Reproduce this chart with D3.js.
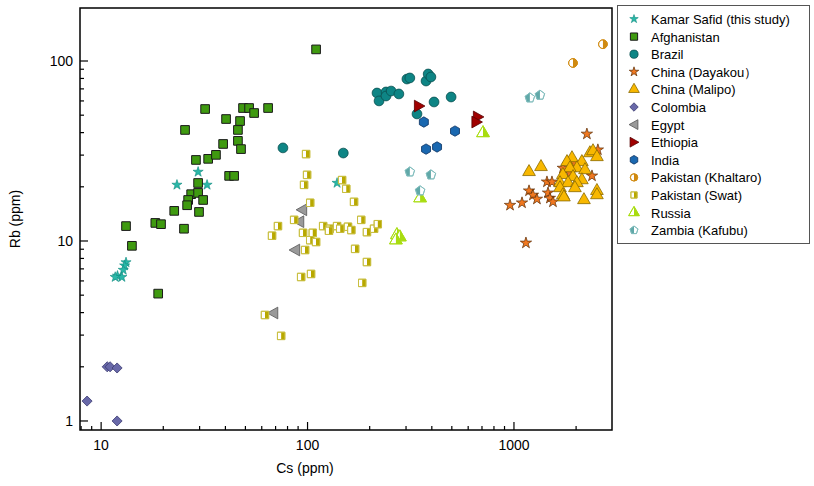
<!DOCTYPE html>
<html><head><meta charset="utf-8">
<script src="https://cdn.jsdelivr.net/npm/d3@7"></script>
<style>body{margin:0;background:#fff;font-family:"Liberation Sans",Arial,sans-serif}</style>
</head><body><div id="chart"></div>
<script>
// values: [Cs, Rb] in ppm
const kamarSafid = [[23.3,20.5],[29.5,24.2],[32.6,20.5],[139,21],[13.2,7.6],[13,7.3],[12.8,6.9],[12,6.4],[12.6,6.3],[11.7,6.3]];
const afghanistan = [[31.9,54.1],[48.7,54.8],[52.1,54.8],[55.1,51.4],[64.4,54.8],[40.3,47.6],[47.1,46.4],[25.5,41.4],[46,41.4],[46,36],[39,34.6],[47.6,32.4],[28.8,28.2],[33,28.6],[36,30.1],[41.7,23],[44.1,23],[29.5,21],[27.3,18.2],[29.5,18.5],[26.4,16.9],[31.2,16.9],[26.1,15.8],[22.6,14.7],[29.8,14.5],[13.2,12.1],[18.3,12.6],[19.5,12.4],[25.2,11.7],[14.1,9.4],[18.9,5.1],[110,116]];
const brazil = [[303,79.4],[313,80.5],[375,77.4],[384,84.7],[396,81.5],[217,66.4],[222,60],[240,67.3],[240,63.9],[254,68.1],[277,65.6],[410,59.2],[496,63.1],[339,50.8],[76,32.9],[149,30.8]];
const dayakou = [[2256,39.3],[2550,32.1],[957,15.8],[1094,16.3],[1183,19],[1236,18],[1292,17.1],[1462,18.5],[1493,17.3],[1545,16.5],[1445,21.3],[1528,21.3],[1726,25.4],[2388,23],[1866,23.9],[1974,27.1],[1143,9.75]];
const malipo = [[1183,24.2],[1352,25.8],[2333,30.8],[2415,31.6],[2523,29.3],[1910,28.9],[1807,27.5],[2133,27.5],[2018,25.4],[1866,25.4],[2208,24.8],[1726,23.3],[1932,22.7],[2133,21.8],[1671,21],[1828,21],[2018,21],[1671,19.7],[1974,19.7],[1726,18],[1746,17.5],[2183,16.9],[2523,19],[2523,18]];
const colombia = [[8.55,1.29],[10.7,2.0],[11.05,2.0],[11.95,1.97],[11.95,1.0]];
const egypt = [[94,14.9],[91,12.8],[86.9,8.91],[68.1,3.98]];
const ethiopia = [[347,56.2],[670,48.9],[659,45.8]];
const india = [[366,45.8],[518,40.8],[424,33.3],[375,32.4]];
const khaltaro = [[1932,97.5],[2698,124]];
const swat = [[98.4,30.4],[99.5,23.3],[96.2,20.5],[147,21.8],[154,19.5],[103,16.3],[168,16.5],[71.9,12.1],[67.3,10.7],[86.1,13.1],[95.1,11.1],[106,11.1],[103,10.1],[110,9.87],[119,12.1],[128,11.7],[127,11.4],[139,12.1],[144,11.7],[157,12],[163,11.5],[182,13.1],[194,11.2],[210,11.7],[219,12.4],[97.3,8.91],[170,9.04],[194,7.64],[93.1,6.31],[104,6.56],[184,5.85],[62.2,3.88],[74.5,2.97]];
const russia = [[708,39.8],[271,10.8],[280,10.5],[268,10.1],[351,17.3]];
const zambia = [[313,24.2],[396,23.3],[351,19],[1194,62.4],[1336,64.6]];

const seriesNames = ["Kamar Safid (this study)","Afghanistan","Brazil","China (Dayakou\uFF09","China (Malipo)","Colombia","Egypt","Ethiopia","India","Pakistan (Khaltaro)","Pakistan (Swat)","Russia","Zambia (Kafubu)"];
const seriesData = [kamarSafid,afghanistan,brazil,dayakou,malipo,colombia,egypt,ethiopia,india,khaltaro,swat,russia,zambia];
const xTicks = [10,100,1000];
const yTicks = [1,10,100];

const styles = [
  {sym:d3.symbolStar,size:32,fill:"#2ab8a8",stroke:"#0f8c80",w:0.6},
  {sym:d3.symbolSquare,size:75,fill:"#3f9a10",stroke:"#1a1a1a",w:1},
  {sym:d3.symbolCircle,size:75,fill:"#0e8585",stroke:"#0a4f4f",w:0.8},
  {sym:d3.symbolStar,size:40,fill:"#f07820",stroke:"#5a2a00",w:0.7},
  {sym:d3.symbolTriangle,size:70,fill:"#f8b800",stroke:"#8a6a00",w:0.8},
  {sym:"diamond",size:55,fill:"#6868a8",stroke:"#3a3a70",w:0.8},
  {sym:"left",size:70,fill:"#9a9a9a",stroke:"#555",w:0.8},
  {sym:"right",size:70,fill:"#a00000",stroke:"#500",w:0.8},
  {sym:"hex",size:70,fill:"#1a68b0",stroke:"#0a3060",w:0.8},
  {sym:d3.symbolCircle,size:60,fill:"#d08a10",stroke:"#d08a10",w:0.9,half:true},
  {sym:d3.symbolSquare,size:55,fill:"#b8a800",stroke:"#c8be40",w:0.9,half:true},
  {sym:d3.symbolTriangle,size:70,fill:"#a8dc10",stroke:"#a8dc10",w:0.9,half:true},
  {sym:"pent",size:65,fill:"#60a8a8",stroke:"#80bcbc",w:0.9,half:true,leftFill:true}
];

function shapePath(s) {
  if (s.sym === "left" || s.sym === "right") {
    const r = Math.sqrt(s.size) * 0.7, d = s.sym === "left" ? -1 : 1;
    return `M${d*r},0L${-d*r*0.8},${-r}L${-d*r*0.8},${r}Z`;
  }
  if (s.sym === "diamond") {
    const r = Math.sqrt(s.size) * 0.68;
    return `M0,${-r}L${r},0L0,${r}L${-r},0Z`;
  }
  if (s.sym === "hex" || s.sym === "pent") {
    const n = s.sym === "hex" ? 6 : 5, r = Math.sqrt(s.size) * 0.62;
    const pts = d3.range(n).map(i => { const a = -Math.PI/2 + i*2*Math.PI/n; return [r*Math.cos(a), r*Math.sin(a)]; });
    return "M" + pts.join("L") + "Z";
  }
  return d3.symbol(s.sym, s.size)();
}

const width = 814, height = 486;
const plot = {left: 80, right: 612, top: 8, bottom: 430};

const svg = d3.select("#chart").append("svg").attr("width", width).attr("height", height);
const defs = svg.append("defs");
defs.append("clipPath").attr("id","rightHalf").append("rect").attr("x",0).attr("y",-20).attr("width",20).attr("height",40);
defs.append("clipPath").attr("id","leftHalf").append("rect").attr("x",-20).attr("y",-20).attr("width",20).attr("height",40);

const xScale = d3.scaleLog().domain([7.9, 2985]).range([plot.left, plot.right]);
const yScale = d3.scaleLog().domain([0.891, 197]).range([plot.bottom, plot.top]);

function drawMarker(g, s) {
  const p = shapePath(s);
  if (s.half) {
    g.append("path").attr("d", p).attr("fill", "#fff").attr("stroke", s.stroke).attr("stroke-width", s.w);
    g.append("path").attr("d", p).attr("fill", s.fill).attr("clip-path", s.leftFill ? "url(#leftHalf)" : "url(#rightHalf)");
    g.append("path").attr("d", p).attr("fill", "none").attr("stroke", s.stroke).attr("stroke-width", s.w);
  } else {
    g.append("path").attr("d", p).attr("fill", s.fill).attr("stroke", s.stroke).attr("stroke-width", s.w);
  }
}

// points
seriesData.forEach((pts, i) => {
  svg.append("g").selectAll("g").data(pts).join("g")
    .attr("transform", d => `translate(${xScale(d[0])},${yScale(d[1])})`)
    .each(function () { drawMarker(d3.select(this), styles[i]); });
});

// frame
svg.append("rect").attr("x", plot.left).attr("y", plot.top)
  .attr("width", plot.right - plot.left).attr("height", plot.bottom - plot.top)
  .attr("fill", "none").attr("stroke", "#000").attr("stroke-width", 1.5);

// log ticks (inward)
const minorX = [];
for (let dec = 1; dec <= 1000; dec *= 10) for (let k = 1; k < 10; k++) { const v = dec*k; if (v >= 7.9 && v <= 2985) minorX.push(v); }
const minorY = [];
for (let dec = 1; dec <= 100; dec *= 10) for (let k = 1; k < 10; k++) { const v = dec*k; if (v >= 0.891 && v <= 197) minorY.push(v); }

const xAxis = svg.append("g");
xAxis.selectAll("line").data(minorX).join("line")
  .attr("x1", d => xScale(d)).attr("x2", d => xScale(d))
  .attr("y1", plot.bottom).attr("y2", d => plot.bottom - (xTicks.includes(d) ? 8 : 4))
  .attr("stroke", "#000").attr("stroke-width", 1.2);
xAxis.selectAll("text").data(xTicks).join("text")
  .attr("x", d => xScale(d)).attr("y", plot.bottom + 20).attr("text-anchor", "middle")
  .attr("font-size", 14).text(d => d);

const yAxis = svg.append("g");
yAxis.selectAll("line").data(minorY).join("line")
  .attr("y1", d => yScale(d)).attr("y2", d => yScale(d))
  .attr("x1", plot.left).attr("x2", d => plot.left + (yTicks.includes(d) ? 8 : 4))
  .attr("stroke", "#000").attr("stroke-width", 1.2);
yAxis.selectAll("text").data(yTicks).join("text")
  .attr("x", plot.left - 7).attr("y", d => yScale(d) + 5).attr("text-anchor", "end")
  .attr("font-size", 14).text(d => d);

svg.append("text").attr("x", 305).attr("y", 473).attr("text-anchor", "middle").attr("font-size", 14).text("Cs (ppm)");
svg.append("text").attr("transform", "translate(20,219) rotate(-90)").attr("text-anchor", "middle").attr("font-size", 14).text("Rb (ppm)");

// legend
const legend = svg.append("g");
legend.append("rect").attr("x", 617.5).attr("y", 5.5).attr("width", 192).attr("height", 238)
  .attr("fill", "#fff").attr("stroke", "#555").attr("stroke-width", 1);
seriesNames.forEach((name, i) => {
  const y = 19 + i * 17.6;
  const g = legend.append("g").attr("transform", `translate(634,${y})`);
  drawMarker(g, Object.assign({}, styles[i], {size: styles[i].size * 0.7}));
  legend.append("text").attr("x", 651).attr("y", y + 5).attr("font-size", 13).text(name);
});
</script>
</body></html>
